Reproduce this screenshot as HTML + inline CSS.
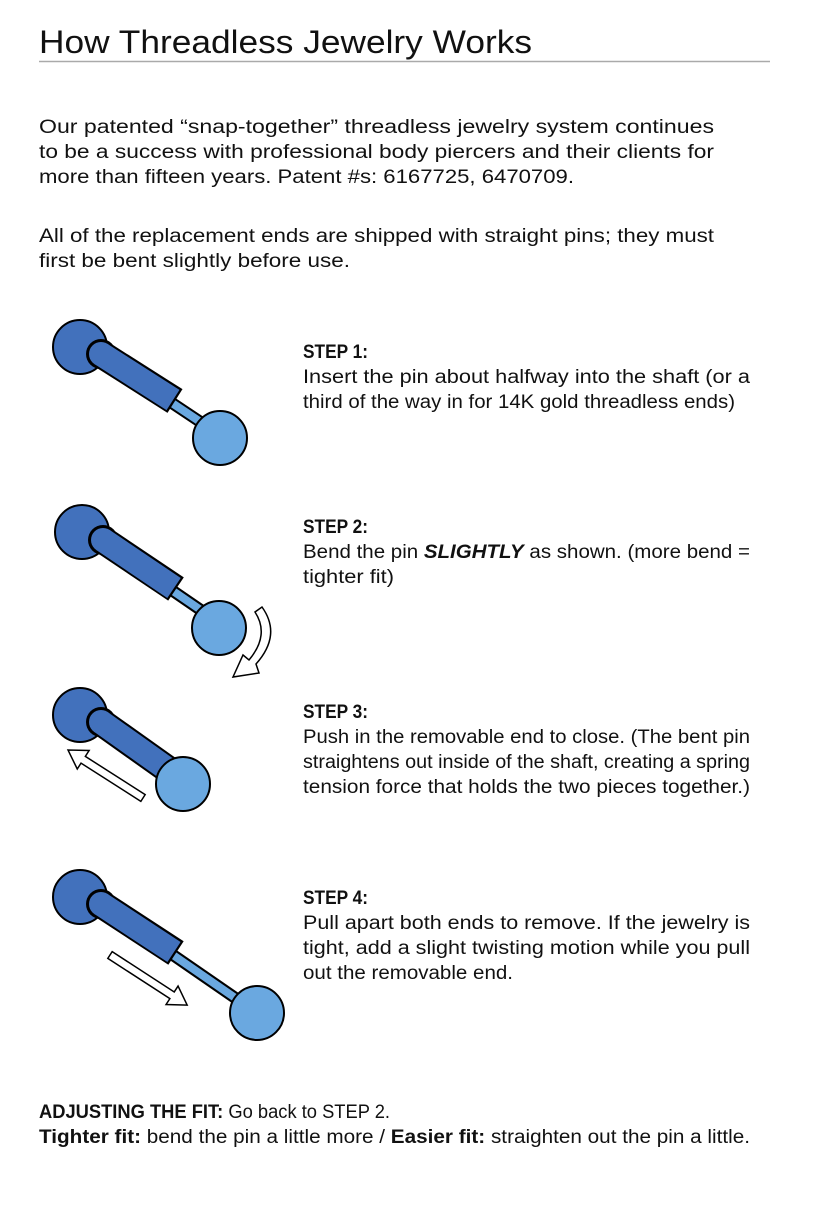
<!DOCTYPE html>
<html><head><meta charset="utf-8"><style>
html,body{margin:0;padding:0;background:#fff;}
svg{display:block;}
text{font-family:"Liberation Sans",Arial,sans-serif;fill:#111;}
.b{font-size:19px;}
.bold{font-weight:bold;}
</style></head><body>
<svg width="823" height="1205" viewBox="0 0 823 1205" xmlns="http://www.w3.org/2000/svg">
<text x="39" y="53" style="font-size:32px" textLength="493" lengthAdjust="spacingAndGlyphs">How Threadless Jewelry Works</text>
<line x1="39" y1="61.5" x2="770" y2="61.5" stroke="#aaa" stroke-width="1.5"/>

<text class="b" x="39" y="133" textLength="675" lengthAdjust="spacingAndGlyphs">Our patented “snap-together” threadless jewelry system continues</text>
<text class="b" x="39" y="158" textLength="675" lengthAdjust="spacingAndGlyphs">to be a success with professional body piercers and their clients for</text>
<text class="b" x="39" y="183" textLength="535" lengthAdjust="spacingAndGlyphs">more than fifteen years. Patent #s: 6167725, 6470709.</text>
<text class="b" x="39" y="242" textLength="675" lengthAdjust="spacingAndGlyphs">All of the replacement ends are shipped with straight pins; they must</text>
<text class="b" x="39" y="267" textLength="311" lengthAdjust="spacingAndGlyphs">first be bent slightly before use.</text>

<text class="b bold" x="303" y="358" textLength="65" lengthAdjust="spacingAndGlyphs">STEP 1:</text>
<text class="b" x="303" y="383" textLength="447" lengthAdjust="spacingAndGlyphs">Insert the pin about halfway into the shaft (or a</text>
<text class="b" x="303" y="408" textLength="432" lengthAdjust="spacingAndGlyphs">third of the way in for 14K gold threadless ends)</text>

<text class="b bold" x="303" y="533" textLength="65" lengthAdjust="spacingAndGlyphs">STEP 2:</text>
<text class="b" x="303" y="558" textLength="447" lengthAdjust="spacingAndGlyphs">Bend the pin <tspan font-weight="bold" font-style="italic">SLIGHTLY</tspan> as shown. (more bend =</text>
<text class="b" x="303" y="583" textLength="91" lengthAdjust="spacingAndGlyphs">tighter fit)</text>

<text class="b bold" x="303" y="718" textLength="65" lengthAdjust="spacingAndGlyphs">STEP 3:</text>
<text class="b" x="303" y="743" textLength="447" lengthAdjust="spacingAndGlyphs">Push in the removable end to close. (The bent pin</text>
<text class="b" x="303" y="768" textLength="447" lengthAdjust="spacingAndGlyphs">straightens out inside of the shaft, creating a spring</text>
<text class="b" x="303" y="793" textLength="447" lengthAdjust="spacingAndGlyphs">tension force that holds the two pieces together.)</text>

<text class="b bold" x="303" y="904" textLength="65" lengthAdjust="spacingAndGlyphs">STEP 4:</text>
<text class="b" x="303" y="929" textLength="447" lengthAdjust="spacingAndGlyphs">Pull apart both ends to remove. If the jewelry is</text>
<text class="b" x="303" y="954" textLength="447" lengthAdjust="spacingAndGlyphs">tight, add a slight twisting motion while you pull</text>
<text class="b" x="303" y="979" textLength="210" lengthAdjust="spacingAndGlyphs">out the removable end.</text>

<text class="b" x="39" y="1118" textLength="351" lengthAdjust="spacingAndGlyphs"><tspan font-weight="bold">ADJUSTING THE FIT:</tspan> Go back to STEP 2.</text>
<text class="b" x="39" y="1143" textLength="711" lengthAdjust="spacingAndGlyphs"><tspan font-weight="bold">Tighter fit:</tspan> bend the pin a little more / <tspan font-weight="bold">Easier fit:</tspan> straighten out the pin a little.</text>

<!-- step1 -->
<circle cx="80" cy="347" r="27" fill="#4271bc" stroke="#000" stroke-width="2"/>
<line x1="172" y1="403" x2="208" y2="427" stroke="#000" stroke-width="12"/>
<line x1="172" y1="403" x2="208" y2="427" stroke="#6aa8e0" stroke-width="8"/>
<circle cx="101" cy="354" r="15" fill="#000"/>
<line x1="101" y1="354" x2="175" y2="401" stroke="#000" stroke-width="28"/>
<line x1="101" y1="354" x2="173" y2="400" stroke="#4271bc" stroke-width="24"/>
<circle cx="101" cy="354" r="12" fill="#4271bc"/>
<circle cx="220" cy="438" r="27" fill="#6aa8e0" stroke="#000" stroke-width="2"/>
<!-- step2 -->
<circle cx="82" cy="532" r="27" fill="#4271bc" stroke="#000" stroke-width="2"/>
<line x1="173" y1="591" x2="208" y2="615" stroke="#000" stroke-width="12"/>
<line x1="173" y1="591" x2="208" y2="615" stroke="#6aa8e0" stroke-width="8"/>
<circle cx="103" cy="540" r="15" fill="#000"/>
<line x1="103" y1="540" x2="176" y2="589" stroke="#000" stroke-width="28"/>
<line x1="103" y1="540" x2="174" y2="588" stroke="#4271bc" stroke-width="24"/>
<circle cx="103" cy="540" r="12" fill="#4271bc"/>
<circle cx="219" cy="628" r="27" fill="#6aa8e0" stroke="#000" stroke-width="2"/>
<path d="M262,607 Q282,635 256,664 L259,673 L233,677 L243,655 L249,660 Q270,635 255,612 Z" fill="#fff" stroke="#000" stroke-width="1.5"/>
<!-- step3 -->
<circle cx="80" cy="715" r="27" fill="#4271bc" stroke="#000" stroke-width="2"/>
<circle cx="101" cy="722" r="15" fill="#000"/>
<line x1="101" y1="722" x2="170" y2="771" stroke="#000" stroke-width="28"/>
<line x1="101" y1="722" x2="170" y2="771" stroke="#4271bc" stroke-width="24"/>
<circle cx="101" cy="722" r="12" fill="#4271bc"/>
<circle cx="183" cy="784" r="27" fill="#6aa8e0" stroke="#000" stroke-width="2"/>
<polygon transform="translate(143,798) rotate(212.6)" points="0,-4 71,-4 71,-11 89,0 71,11 71,4 0,4" fill="#fff" stroke="#000" stroke-width="1.5"/>
<!-- step4 -->
<circle cx="80" cy="897" r="27" fill="#4271bc" stroke="#000" stroke-width="2"/>
<line x1="173" y1="955" x2="244" y2="1004" stroke="#000" stroke-width="12"/>
<line x1="173" y1="955" x2="244" y2="1004" stroke="#6aa8e0" stroke-width="8"/>
<circle cx="101" cy="904" r="15" fill="#000"/>
<line x1="101" y1="904" x2="176" y2="953" stroke="#000" stroke-width="28"/>
<line x1="101" y1="904" x2="174" y2="952" stroke="#4271bc" stroke-width="24"/>
<circle cx="101" cy="904" r="12" fill="#4271bc"/>
<circle cx="257" cy="1013" r="27" fill="#6aa8e0" stroke="#000" stroke-width="2"/>
<polygon transform="translate(110,955) rotate(33)" points="0,-4 74,-4 74,-11 92,0 74,11 74,4 0,4" fill="#fff" stroke="#000" stroke-width="1.5"/>
</svg>
</body></html>
